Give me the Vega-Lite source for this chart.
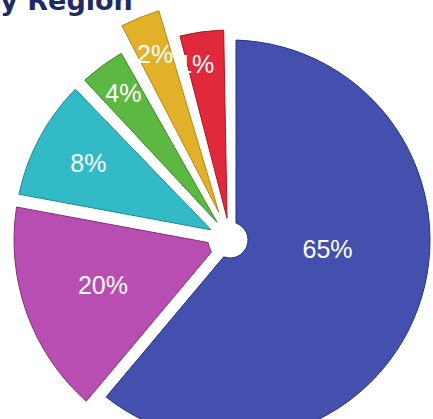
{
  "$schema": "https://vega.github.io/schema/vega-lite/v6.json",
  "width": 406,
  "height": 358,
  "autosize": {"type": "none"},
  "padding": {"left": 27, "top": 61, "right": 0, "bottom": 0},
  "background": "white",
  "title": {
    "text": "by Region",
    "anchor": "start",
    "frame": "group",
    "offset": 0,
    "dx": -46,
    "dy": 28,
    "baseline": "alphabetic",
    "font": "DejaVu Sans",
    "fontWeight": "bold",
    "fontSize": 27,
    "color": "#1c2a66"
  },
  "data": {
    "values": [
      {"pct": 65, "label": "65%"},
      {"pct": 20, "label": "20%"},
      {"pct": 8, "label": "8%"},
      {"pct": 4, "label": "4%"},
      {"pct": 2, "label": "2%"},
      {"pct": 1, "label": "1%"}
    ]
  },
  "encoding": {
    "color": {
      "field": "label",
      "type": "nominal",
      "scale": {
        "domain": ["65%", "20%", "8%", "4%", "2%", "1%"],
        "range": ["#4350ae", "#b84db2", "#33bac7", "#5db843", "#e2b129", "#e0293a"]
      },
      "legend": null
    }
  },
  "layer": [
    {
      "transform": [
        {"stack": "pct", "groupby": [], "sort": [{"field": "pct", "order": "descending"}], "as": ["t0", "t1"]},
        {"filter": "datum.pct == 65"}
      ],
      "mark": {"type": "arc", "outerRadius": 200, "innerRadius": 18, "padAngle": 0.06, "strokeWidth": 1, "stroke": "#262f80"},
      "encoding": {
        "theta": {
          "field": "t0",
          "type": "quantitative",
          "scale": {
            "type": "linear",
            "domain": [0, 65, 85, 93, 97, 99, 100],
            "range": [0, 3.8397, 4.8957, 5.5152, 5.7858, 6.0126, 6.2832],
            "nice": false,
            "zero": false
          }
        },
        "theta2": {"field": "t1"}
      }
    },
    {
      "transform": [
        {"stack": "pct", "groupby": [], "sort": [{"field": "pct", "order": "descending"}], "as": ["t0", "t1"]},
        {"filter": "datum.pct != 65 && datum.pct != 2 && datum.pct != 1"}
      ],
      "mark": {"type": "arc", "outerRadius": 216, "innerRadius": 22, "padAngle": 0.06, "strokeWidth": 1},
      "encoding": {
        "theta": {"field": "t0", "type": "quantitative"},
        "theta2": {"field": "t1"},
        "stroke": {
          "field": "label",
          "type": "nominal",
          "scale": {
            "domain": ["20%", "8%", "4%"],
            "range": ["#85307d", "#1d8894", "#3a8a28"]
          },
          "legend": null
        }
      }
    },
    {
      "transform": [
        {"stack": "pct", "groupby": [], "sort": [{"field": "pct", "order": "descending"}], "as": ["t0", "t1"]},
        {"filter": "datum.pct == 1"}
      ],
      "mark": {"type": "arc", "outerRadius": 210, "innerRadius": 22, "padAngle": 0.06, "strokeWidth": 1, "stroke": "#a51826"},
      "encoding": {
        "theta": {"field": "t0", "type": "quantitative"},
        "theta2": {"field": "t1"}
      }
    },
    {
      "transform": [
        {"stack": "pct", "groupby": [], "sort": [{"field": "pct", "order": "descending"}], "as": ["t0", "t1"]},
        {"filter": "datum.pct == 2"}
      ],
      "mark": {"type": "arc", "outerRadius": 240, "innerRadius": 30, "padAngle": 0.06, "strokeWidth": 1, "stroke": "#b0861a"},
      "encoding": {
        "theta": {"field": "t0", "type": "quantitative"},
        "theta2": {"field": "t1"}
      }
    },
    {
      "mark": {"type": "text", "font": "Liberation Sans", "fontSize": 25, "fill": "white", "align": "center", "baseline": "middle"},
      "encoding": {
        "theta": {"field": "pct", "type": "quantitative", "stack": true},
        "order": {"field": "pct", "type": "quantitative", "sort": "descending"},
        "color": null,
        "text": {"field": "label", "type": "nominal"},
        "radius": {
          "field": "pct",
          "type": "quantitative",
          "scale": {"type": "log", "domain": [2, 20], "range": [200, 135]}
        },
        "opacity": {"condition": {"test": "datum.pct == 65 || datum.pct == 1", "value": 0}, "value": 1}
      }
    },
    {
      "transform": [{"filter": "datum.pct == 65"}],
      "mark": {"type": "text", "font": "Liberation Sans", "fontSize": 25, "fill": "white", "align": "center", "baseline": "middle", "radius": 98, "thetaOffset": -0.25},
      "encoding": {
        "theta": {"field": "pct", "type": "quantitative", "stack": true},
        "color": null,
        "text": {"field": "label", "type": "nominal"}
      }
    },
    {
      "transform": [
        {"stack": "pct", "groupby": [], "sort": [{"field": "pct", "order": "descending"}], "as": ["t0", "t1"]},
        {"filter": "datum.pct == 1"}
      ],
      "mark": {"type": "text", "font": "Liberation Sans", "fontSize": 25, "fill": "white", "align": "center", "baseline": "middle", "radius": 178, "thetaOffset": 0.08},
      "encoding": {
        "theta": {"field": "t0", "type": "quantitative"},
        "color": null,
        "text": {"field": "label", "type": "nominal"}
      }
    }
  ]
}
